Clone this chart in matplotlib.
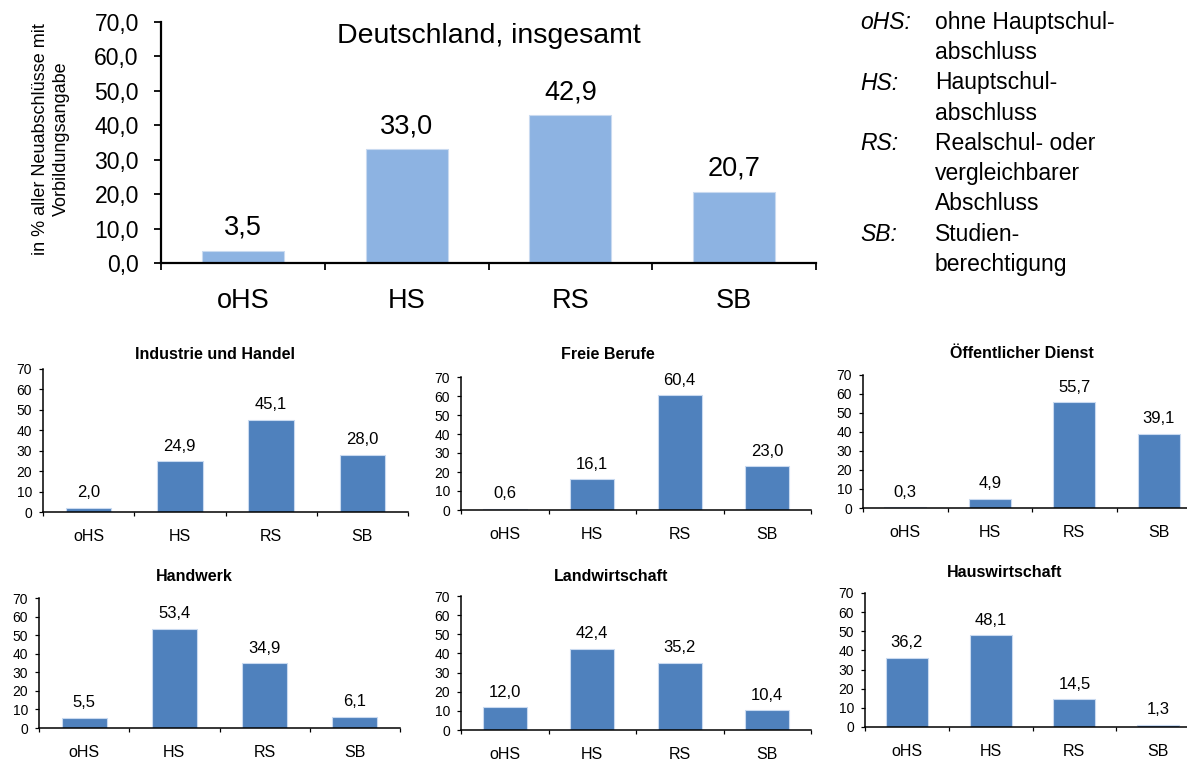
import numpy as np
import matplotlib
matplotlib.use('Agg')
from matplotlib import pyplot as plt
from matplotlib.ticker import FuncFormatter

# Neuabschlüsse nach schulischer Vorbildung, in %
categories = ['oHS', 'HS', 'RS', 'SB']
gesamt = [3.5, 33.0, 42.9, 20.7]
industrie = [2.0, 24.9, 45.1, 28.0]
freie = [0.6, 16.1, 60.4, 23.0]
oeffentlich = [0.3, 4.9, 55.7, 39.1]
handwerk = [5.5, 53.4, 34.9, 6.1]
landwirtschaft = [12.0, 42.4, 35.2, 10.4]
hauswirtschaft = [36.2, 48.1, 14.5, 1.3]

bereiche = ['Industrie und Handel', 'Freie Berufe', 'Öffentlicher Dienst',
            'Handwerk', 'Landwirtschaft', 'Hauswirtschaft']
bereichWerte = [industrie, freie, oeffentlich, handwerk, landwirtschaft, hauswirtschaft]

legendKeys = ['oHS:', 'HS:', 'RS:', 'SB:']
legendTexts = [['ohne Hauptschul-', 'abschluss'],
               ['Hauptschul-', 'abschluss'],
               ['Realschul- oder', 'vergleichbarer', 'Abschluss'],
               ['Studien-', 'berechtigung']]

W, H = 1187, 761
plt.rcParams['font.family'] = ['Liberation Sans', 'DejaVu Sans']


def pxRect(left, top, right, bottom):
    return [left / W, 1 - bottom / H, (right - left) / W, (bottom - top) / H]


def comma(v, decimals=1):
    return f'{v:.{decimals}f}'.replace('.', ',')


def drawBars(ax, values, color, tickSize, catSize, valSize, valOffset, catPad,
             spineWidth, tickLen, yPad, yDecimals):
    x = np.arange(len(categories))
    ax.bar(x, values, width=0.5, color=color, edgecolor='#c9daf0', linewidth=0.8)
    ax.set_xlim(-0.5, len(categories) - 0.5)
    ax.set_ylim(0, 70)
    ax.set_yticks(range(0, 71, 10))
    ax.yaxis.set_major_formatter(FuncFormatter(lambda v, p: comma(v, yDecimals)))
    for s in ['top', 'right']:
        ax.spines[s].set_visible(False)
    for s in ['left', 'bottom']:
        ax.spines[s].set_linewidth(spineWidth)
    ax.set_xticks(x)
    ax.set_xticklabels(categories, fontsize=catSize)
    ax.set_xticks(np.arange(-0.5, len(categories), 1), minor=True)
    ax.tick_params(axis='x', which='major', length=0, pad=catPad)
    ax.tick_params(axis='x', which='minor', length=tickLen, width=spineWidth * 0.8)
    ax.tick_params(axis='y', length=tickLen, width=spineWidth * 0.8, pad=yPad,
                   labelsize=tickSize)
    for xi, v in zip(x, values):
        ax.annotate(comma(v), (xi, v), xytext=(0, valOffset), textcoords='offset points',
                    ha='center', va='baseline', fontsize=valSize)


fig = plt.figure(figsize=(W / 100, H / 100), dpi=100)

# Gesamtdiagramm oben
axTop = fig.add_axes(pxRect(161, 22, 816, 263))
drawBars(axTop, gesamt, '#8db3e2', tickSize=16.5, catSize=19.5, valSize=19.5,
         valOffset=11.5, catPad=18, spineWidth=1.6, tickLen=5, yPad=11, yDecimals=1)
axTop.text(0.5, 1 - 21 / 241, 'Deutschland, insgesamt', transform=axTop.transAxes,
           ha='center', va='baseline', fontsize=20.5)
fig.text(51 / W, 1 - 139 / H, 'in % aller Neuabschlüsse mit\nVorbildungsangabe',
         rotation=90, ha='center', va='center', fontsize=13, multialignment='center',
         linespacing=1.35)

# Legende der Abkürzungen
line = 0
for key, texts in zip(legendKeys, legendTexts):
    fig.text(860 / W, 1 - (29 + 30.25 * line) / H, key, style='italic', fontsize=16.5,
             va='baseline')
    for t in texts:
        fig.text(935 / W, 1 - (29 + 30.25 * line) / H, t, fontsize=16.5, va='baseline')
        line += 1

# Ausbildungsbereiche
boxes = [(43, 369, 408, 512), (461, 377, 811, 510), (863, 375, 1201, 508),
         (39, 598, 400, 728), (461, 596, 811, 730), (865, 593, 1200, 727)]
titlePos = [(215, 359), (608, 359), (1022, 358), (194, 581), (611, 581), (1005, 577)]

for name, vals, box, (tx, ty) in zip(bereiche, bereichWerte, boxes, titlePos):
    ax = fig.add_axes(pxRect(*box))
    drawBars(ax, vals, '#4f81bd', tickSize=10, catSize=11.5, valSize=12, valOffset=7.5,
             catPad=12, spineWidth=1.1, tickLen=3, yPad=5, yDecimals=0)
    fig.text(tx / W, 1 - ty / H, name, ha='center', va='baseline', fontsize=11.5,
             fontweight='bold')

fig.savefig('out.png', dpi=100)
